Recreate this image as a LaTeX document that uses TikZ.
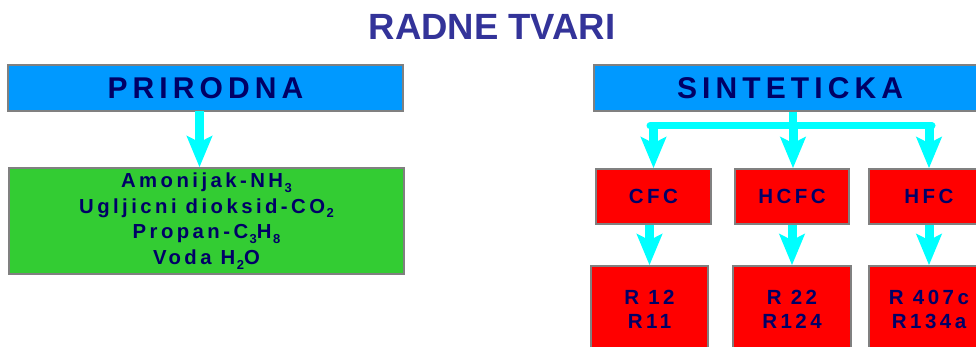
\documentclass[tikz,border=0pt]{standalone}
\usepackage{fontspec}
\setmainfont{Liberation Sans}
\newfontfamily\spaced[LetterSpace=17]{Liberation Sans}
\usetikzlibrary{arrows.meta}
\definecolor{titlec}{RGB}{51,51,153}
\definecolor{navy}{RGB}{0,0,102}
\definecolor{blueb}{RGB}{0,153,255}
\definecolor{greenb}{RGB}{51,204,51}
\definecolor{redb}{RGB}{255,0,0}
\definecolor{cyanc}{RGB}{0,255,255}
\definecolor{edgec}{RGB}{128,128,128}
\newcommand{\subs}[1]{\kern1.5pt\raisebox{-0.45ex}{\fontsize{13}{13}\selectfont #1}}
\tikzset{
  box/.style={draw=edgec, line width=1.5pt, inner sep=0pt, text=navy, align=center},
  headbox/.style={box, fill=blueb, font=\spaced\bfseries\fontsize{30}{30}\selectfont},
  redbox/.style={box, fill=redb, font=\spaced\bfseries\fontsize{20.5}{24}\selectfont},
  arr/.style={draw=cyanc, line width=9pt, -{Stealth[length=31pt,width=25pt,inset=6pt]}},
  bar/.style={draw=cyanc, line width=7pt, line cap=round},
}
\begin{document}
\begin{tikzpicture}[x=1pt,y=-1pt]
\useasboundingbox (0,0) rectangle (976,347);
\clip (0,0) rectangle (976,347);
\node[font=\bfseries\fontsize{36.5}{36.5}\selectfont, text=titlec] (title) at (492,27) {RADNE TVARI};
% left
\node[headbox, minimum width=395pt, minimum height=46pt] (prir) at (205.5,88) {PRIRODNA};
\node[box, fill=greenb, minimum width=395pt, minimum height=106pt,
  font=\spaced\bfseries\fontsize{20.3}{25.7}\selectfont] (green) at (206.5,221)
  {Amonijak-NH\subs{3}\\Ugljicni dioksid-CO\subs{2}\\Propan-C\subs{3}H\subs{8}\\Voda H\subs{2}O};
\coordinate (a1) at (199.5,111);
\draw[arr] (a1) -- (a1 |- green.north);
% right
\node[headbox, minimum width=392pt, minimum height=46pt] (sint) at (790,88) {SINTETICKA};
\node[redbox, minimum width=115pt, minimum height=55pt] (cfc) at (653.5,196.5) {CFC};
\node[redbox, minimum width=114pt, minimum height=55pt] (hcfc) at (792,196.5) {HCFC};
\node[redbox, minimum width=120pt, minimum height=55pt] (hfc) at (929,196.5) {HFC};
\node[redbox, minimum width=117pt, minimum height=86pt] (r1) at (649.5,309) {R 12\\R11};
\node[redbox, minimum width=118pt, minimum height=86pt] (r2) at (792,309) {R 22\\R124};
\node[redbox, minimum width=120pt, minimum height=86pt] (r3) at (929,309) {R 407c\\R134a};
\coordinate (bl) at (650,126);
\coordinate (br) at (932,126);
\coordinate (bm) at (793,126);
\draw[bar] (bl) -- (br);
\draw[draw=cyanc, line width=8pt] (sint.south -| bm) -- (bm);
\draw[arr] (bl -| cfc.north) -- (cfc.north);
\draw[arr] (bm) -- (hcfc.north -| bm);
\draw[arr] (br -| hfc.north) -- (hfc.north);
\draw[arr] (cfc.south -| r1.north) -- (r1.north);
\draw[arr] (hcfc.south) -- (r2.north);
\draw[arr] (hfc.south) -- (r3.north);
\end{tikzpicture}
\end{document}
